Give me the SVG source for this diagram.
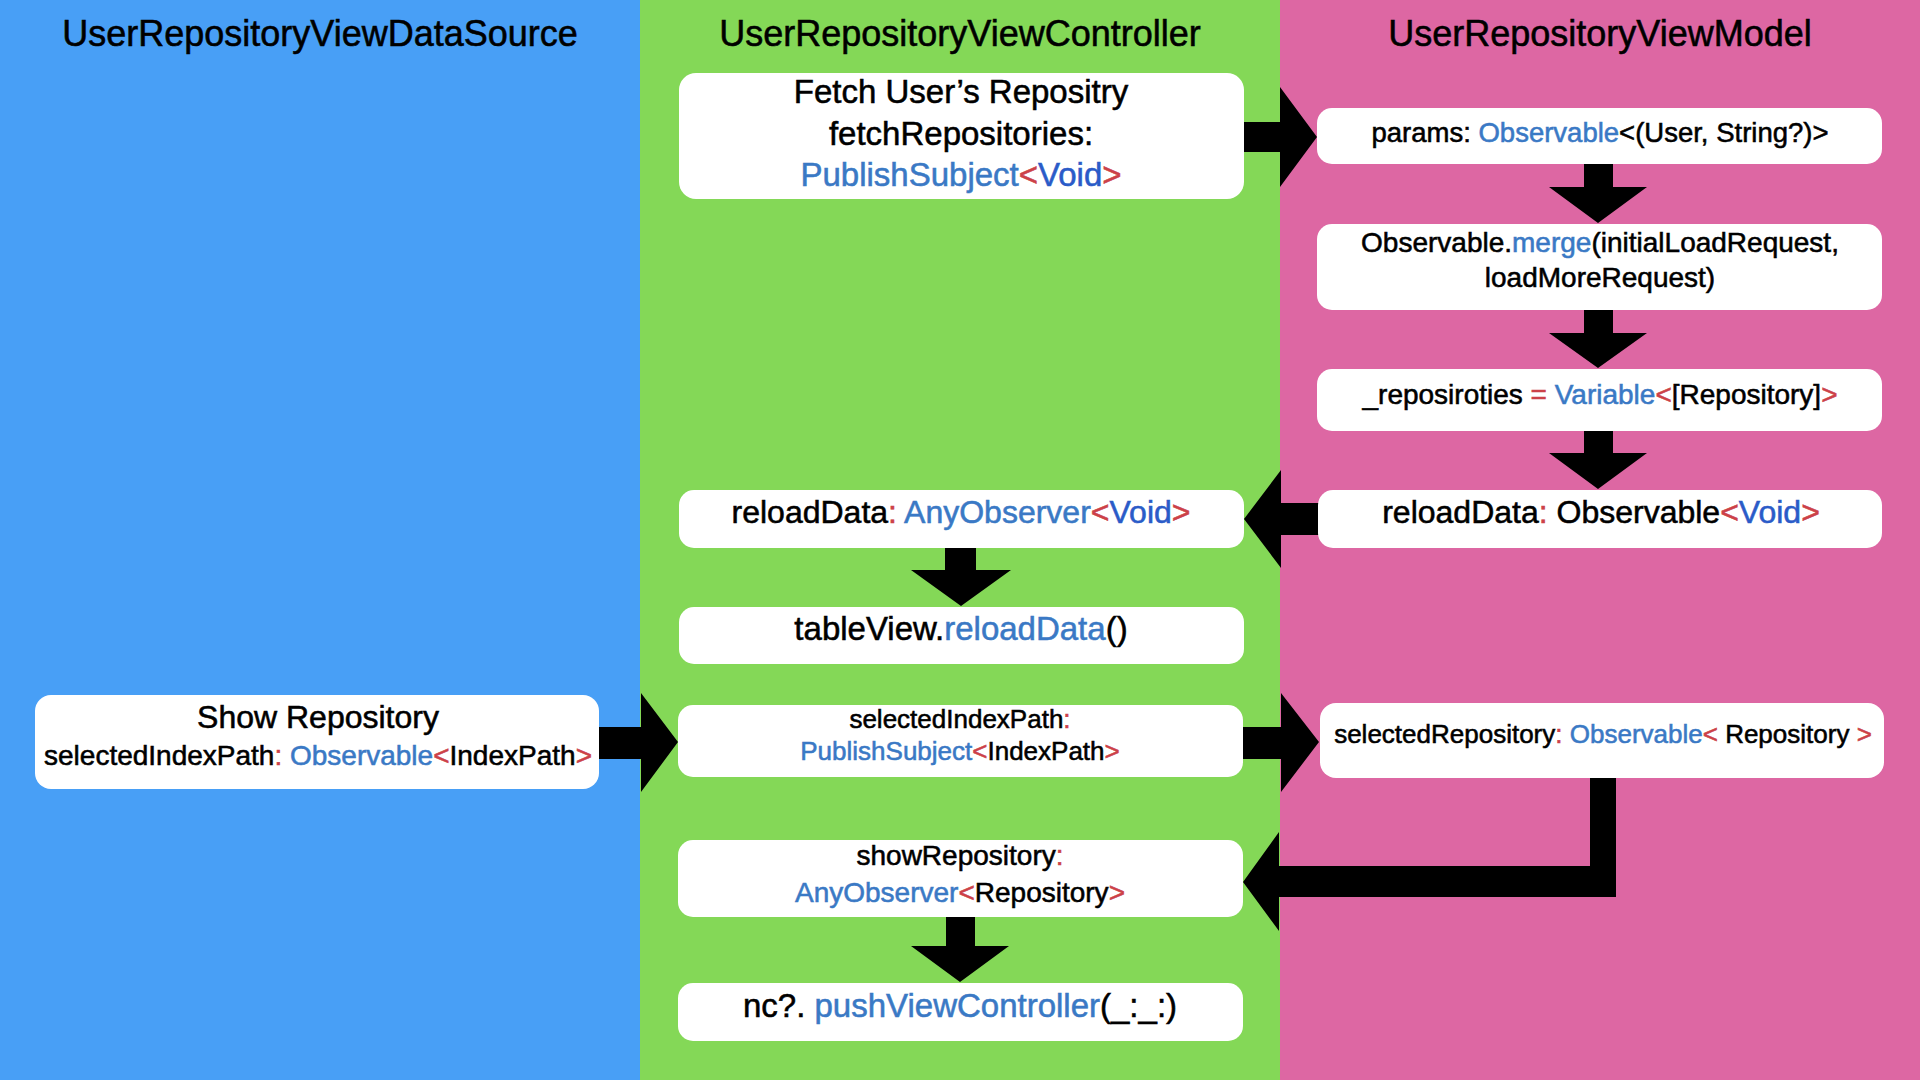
<svg xmlns="http://www.w3.org/2000/svg" width="1920" height="1080" viewBox="0 0 1920 1080">
<style>
text{font-family:"Liberation Sans",Arial,sans-serif;fill:#000;stroke:#000;stroke-width:0.55;text-anchor:middle}
.hd{font-size:36px}
.box{fill:#fff}
.b{fill:#3A79C5;stroke:#3A79C5}
.d{fill:#2A5BC8;stroke:#2A5BC8}
.r{fill:#CC4148;stroke:#CC4148}
.arrow{fill:#000}
</style>
<g id="lanes">
<rect x="0" y="0" width="640" height="1080" fill="#489FF6"/>
<rect x="640" y="0" width="640" height="1080" fill="#84D857"/>
<rect x="1280" y="0" width="640" height="1080" fill="#DD67A3"/>
<text class="hd" x="320" y="46">UserRepositoryViewDataSource</text>
<text class="hd" x="960" y="46">UserRepositoryViewController</text>
<text class="hd" x="1600" y="46">UserRepositoryViewModel</text>
</g>
<g id="connectors">
<polygon class="arrow" points="1243,122 1280,122 1280,87 1317,137 1280,187 1280,152 1243,152"/>
<polygon class="arrow" points="1584,164 1613,164 1613,187 1647,187 1598,223 1549,187 1584,187"/>
<polygon class="arrow" points="1584,309 1613,309 1613,333 1647,333 1598,368 1549,333 1584,333"/>
<polygon class="arrow" points="1584,430 1613,430 1613,453 1647,453 1598,489 1549,453 1584,453"/>
<polygon class="arrow" points="1319,503 1281,503 1281,470 1244,519 1281,568 1281,535 1319,535"/>
<polygon class="arrow" points="945,547 976,547 976,570 1011,570 961,606 911,570 945,570"/>
<polygon class="arrow" points="598,727 641,727 641,693 678,742 641,792 641,759 598,759"/>
<polygon class="arrow" points="1243,727 1281,727 1281,693 1319,742 1281,792 1281,759 1243,759"/>
<polygon class="arrow" points="1590,777 1616,777 1616,897 1279,897 1279,931 1243,882 1279,832 1279,866 1590,866"/>
<polygon class="arrow" points="946,917 975,917 975,946 1009,946 960,982 911,946 946,946"/>
</g>
<g id="fetch">
<rect class="box" x="679" y="73" width="565" height="126" rx="17"/>
<text x="961" y="103" font-size="33">Fetch User’s Repositry</text>
<text x="961" y="145" font-size="33">fetchRepositories:</text>
<text x="961" y="186" font-size="33"><tspan class="b">PublishSubject</tspan><tspan class="r">&lt;</tspan><tspan class="d">Void</tspan><tspan class="r">&gt;</tspan></text>
</g>
<g id="params">
<rect class="box" x="1317" y="108" width="565" height="56" rx="15"/>
<text x="1600" y="142" font-size="27.5">params: <tspan class="b">Observable</tspan>&lt;(User, String?)&gt;</text>
</g>
<g id="merge">
<rect class="box" x="1317" y="224" width="565" height="86" rx="15"/>
<text x="1600" y="252" font-size="28">Observable.<tspan class="b">merge</tspan>(initialLoadRequest,</text>
<text x="1600" y="287" font-size="28">loadMoreRequest)</text>
</g>
<g id="repositories">
<rect class="box" x="1317" y="369" width="565" height="62" rx="15"/>
<text x="1600" y="404" font-size="28">_reposiroties <tspan class="r">=</tspan> <tspan class="b">Variable</tspan><tspan class="r">&lt;</tspan>[Repository]<tspan class="r">&gt;</tspan></text>
</g>
<g id="reloadDataObservable">
<rect class="box" x="1318" y="490" width="564" height="58" rx="15"/>
<text x="1601" y="523" font-size="32">reloadData<tspan class="r">:</tspan> Observable<tspan class="r">&lt;</tspan><tspan class="d">Void</tspan><tspan class="r">&gt;</tspan></text>
</g>
<g id="reloadDataObserver">
<rect class="box" x="679" y="490" width="565" height="58" rx="15"/>
<text x="961" y="523" font-size="32">reloadData<tspan class="r">:</tspan> <tspan class="b">AnyObserver</tspan><tspan class="r">&lt;</tspan><tspan class="d">Void</tspan><tspan class="r">&gt;</tspan></text>
</g>
<g id="tableView">
<rect class="box" x="679" y="607" width="565" height="57" rx="15"/>
<text x="961" y="640" font-size="33">tableView.<tspan class="b">reloadData</tspan>()</text>
</g>
<g id="showRepositoryDS">
<rect class="box" x="35" y="695" width="564" height="94" rx="16"/>
<text x="318" y="728" font-size="32">Show Repository</text>
<text x="318" y="765" font-size="28">selectedIndexPath<tspan class="r">:</tspan> <tspan class="b">Observable</tspan><tspan class="r">&lt;</tspan>IndexPath<tspan class="r">&gt;</tspan></text>
</g>
<g id="selectedIndexPath">
<rect class="box" x="678" y="705" width="565" height="72" rx="15"/>
<text x="960" y="728" font-size="26">selectedIndexPath<tspan class="r">:</tspan></text>
<text x="960" y="760" font-size="26"><tspan class="b">PublishSubject</tspan><tspan class="r">&lt;</tspan>IndexPath<tspan class="r">&gt;</tspan></text>
</g>
<g id="selectedRepository">
<rect class="box" x="1320" y="703" width="564" height="75" rx="16"/>
<text x="1603" y="743" font-size="26">selectedRepository<tspan class="r">:</tspan> <tspan class="b">Observable</tspan><tspan class="r">&lt;</tspan> Repository <tspan class="r">&gt;</tspan></text>
</g>
<g id="showRepository">
<rect class="box" x="678" y="840" width="565" height="77" rx="15"/>
<text x="960" y="865" font-size="28">showRepository<tspan class="r">:</tspan></text>
<text x="960" y="902" font-size="28"><tspan class="b">AnyObserver</tspan><tspan class="r">&lt;</tspan>Repository<tspan class="r">&gt;</tspan></text>
</g>
<g id="pushViewController">
<rect class="box" x="678" y="983" width="565" height="58" rx="15"/>
<text x="960" y="1017" font-size="33">nc?. <tspan class="b">pushViewController</tspan>(_:_:)</text>
</g>
</svg>
